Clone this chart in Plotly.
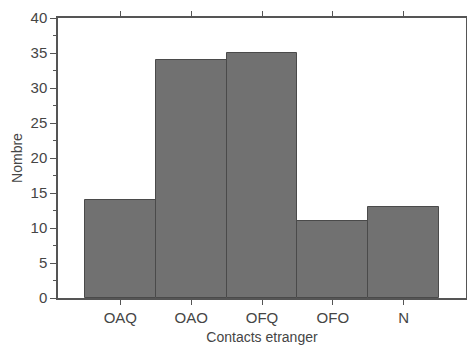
import plotly.graph_objects as go

categories = ["OAQ", "OAO", "OFQ", "OFO", "N"]
values = [14, 34, 35, 11, 13]
y_ticks = [0, 5, 10, 15, 20, 25, 30, 35, 40]

fig = go.Figure()
fig.add_trace(go.Bar(
    x=categories, y=values,
    marker=dict(color="#717171", line=dict(color="#4a4a4a", width=1)),
))

fig.update_layout(
    width=467, height=345,
    margin=dict(l=58, r=1, t=18, b=47),
    plot_bgcolor="white", paper_bgcolor="white",
    bargap=0, showlegend=False,
    font=dict(family="Liberation Sans, Arial, sans-serif", color="#404040", size=14),
)
fig.update_xaxes(
    type="category", range=[-0.88, 4.88], automargin=False,
    showline=True, linecolor="#555555", linewidth=1.5, mirror="ticks",
    ticks="outside", ticklen=5, tickcolor="#555555",
    showgrid=False, zeroline=False,
    tickfont=dict(size=15, color="#454545"),
    title=dict(text="Contacts etranger", font=dict(size=14, color="#454545"), standoff=8),
)
fig.update_yaxes(
    range=[0, 40], tickvals=y_ticks, automargin=False,
    showline=True, linecolor="#555555", linewidth=1.5, mirror="ticks",
    ticks="outside", ticklen=6, tickcolor="#555555",
    minor=dict(ticks="outside", ticklen=3, dtick=2.5, tickcolor="#555555"),
    showgrid=False, zeroline=False,
    tickfont=dict(size=15, color="#454545"),
    title=dict(text="Nombre", font=dict(size=14, color="#454545"), standoff=5),
)
fig.write_html("out.html")
